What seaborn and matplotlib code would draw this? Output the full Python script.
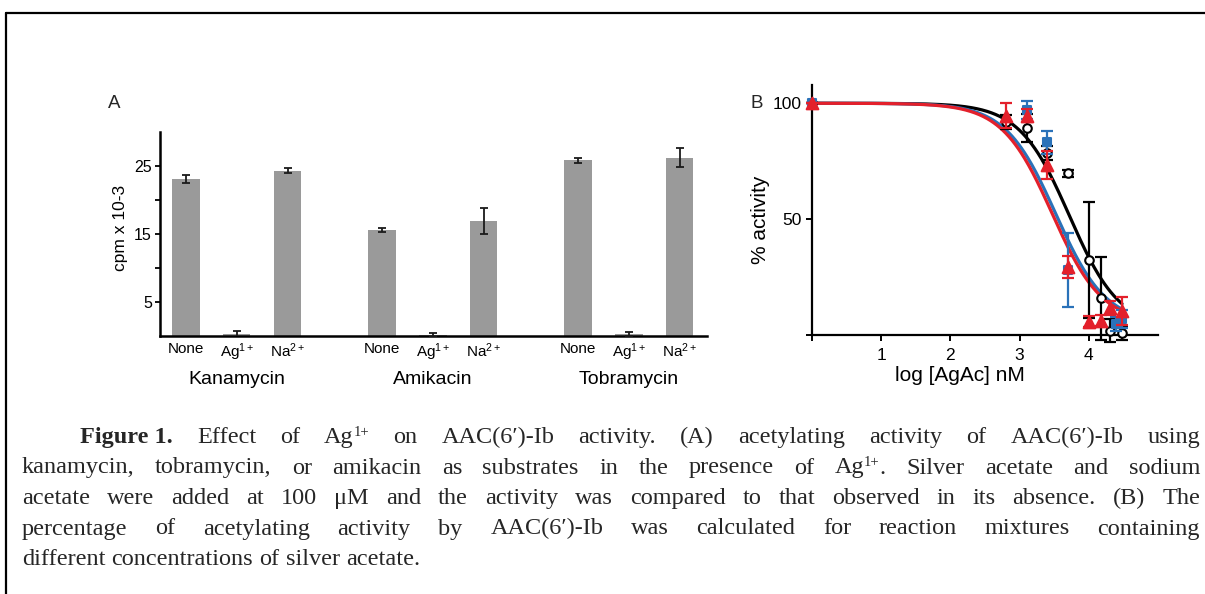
import re
import numpy as np
import pandas as pd
import matplotlib
matplotlib.use("Agg")
import matplotlib.pyplot as plt
from matplotlib.lines import Line2D
import seaborn as sns

# ---------------- data ----------------
antibiotics = ["Kanamycin", "Amikacin", "Tobramycin"]
conditions = ["None", "Ag$^{1+}$", "Na$^{2+}$"]
cpm_kanamycin = [23.0, 0.25, 24.3]
cpm_amikacin = [15.6, 0.2, 16.9]
cpm_tobramycin = [25.8, 0.3, 26.2]
err_kanamycin = [0.6, 0.55, 0.35]
err_amikacin = [0.3, 0.3, 1.9]
err_tobramycin = [0.37, 0.35, 1.4]

logc_black = [0, 2.8, 3.1, 3.4, 3.7, 4.0, 4.18, 4.3, 4.48]
act_black = [100, 91.8, 89.2, 78.4, 69.8, 32.6, 15.9, 2, 1]
err_black = [0, 3, 6, 3, 1.5, 25, 18, 5, 3]
logc_blue = [0, 3.1, 3.4, 3.7, 4.4, 4.48]
act_blue = [100, 97.1, 83.2, 28.1, 5, 7]
err_blue = [0, 4, 5, 16, 3, 4]
logc_red = [0, 2.8, 3.1, 3.4, 3.7, 4.0, 4.18, 4.3, 4.48]
act_red = [100, 94.7, 94.7, 73.4, 29.3, 5.9, 6.3, 11.6, 10.6]
err_red = [0, 5.5, 2.7, 6, 4.7, 2.5, 2.5, 3, 6]
# fitted dose-response parameters (black, blue, red)
fit_log_ic50 = [3.72, 3.52, 3.47]
fit_hill = [1.2, 1.2, 1.2]
fit_bottom = [3, 5, 5]

caption_lines = [
    "*Figure~1.* Effect of Ag^{1+} on AAC(6\u2032)-Ib activity. (A) acetylating activity of AAC(6\u2032)-Ib using",
    "kanamycin, tobramycin, or amikacin as substrates in the presence of Ag^{1+}. Silver acetate and sodium",
    "acetate were added at 100 \u03bcM and the activity was compared to that observed in its absence. (B) The",
    "percentage of acetylating activity by AAC(6\u2032)-Ib was calculated for reaction mixtures containing",
    "different concentrations of silver acetate.",
]

# ---------------- style ----------------
sns.set_theme(style="ticks")
plt.rcParams["font.family"] = ["Liberation Sans", "DejaVu Sans"]
plt.rcParams["mathtext.fontset"] = "custom"
plt.rcParams["mathtext.rm"] = "Liberation Sans"
plt.rcParams["mathtext.it"] = "Liberation Sans:italic"
plt.rcParams["mathtext.bf"] = "Liberation Sans:bold"

W, H = 1205, 594
fig = plt.figure(figsize=(W / 100, H / 100), dpi=100)
fig.patch.set_facecolor("white")


def frac(x0, y0, x1, y1):
    return [x0 / W, 1 - y1 / H, (x1 - x0) / W, (y1 - y0) / H]


# ---------------- panel A ----------------
axA = fig.add_axes(frac(160.4, 131.7, 706.6, 336))
gap = 3.85
positions = [g * gap + i for g in range(3) for i in range(3)]
dfA = pd.DataFrame({
    "pos": positions,
    "cpm": cpm_kanamycin + cpm_amikacin + cpm_tobramycin,
    "err": err_kanamycin + err_amikacin + err_tobramycin,
})
sns.barplot(data=dfA, x="pos", y="cpm", native_scale=True, width=0.544,
            color="#9a9a9a", saturation=1, errorbar=None, linewidth=0,
            ax=axA, zorder=2)
axA.errorbar(dfA["pos"], dfA["cpm"], yerr=dfA["err"], fmt="none",
             ecolor="#1a1a1a", elinewidth=1.3, capsize=2.9, capthick=1.3,
             zorder=3)
axA.set_xlim(-0.497, 10.23)
axA.set_ylim(0, 30)
axA.set_yticks([5, 10, 15, 20, 25])
axA.set_yticklabels(["5", "", "15", "", "25"], fontsize=11.5)
axA.set_xticks(positions)
axA.set_xticklabels(conditions * 3, fontsize=11)
axA.tick_params(axis="x", length=0, pad=4, colors="black")
axA.tick_params(axis="y", length=3.6, width=1.3, pad=2.5, colors="black")
for s in ["top", "right"]:
    axA.spines[s].set_visible(False)
for s in ["left", "bottom"]:
    axA.spines[s].set_linewidth(1.8)
    axA.spines[s].set_color("black")
axA.set_xlabel("")
axA.set_ylabel("cpm x 10-3", fontsize=12.5, color="black")
axA.yaxis.set_label_coords(-0.060, 0.527)
for g, name in enumerate(antibiotics):
    axA.text(positions[g * 3 + 1], -0.215, name, transform=axA.get_xaxis_transform(),
             ha="center", va="center", fontsize=14, color="black")
fig.text(114 / W, 1 - 103 / H, "A", ha="center", va="center", fontsize=13.5)

# ---------------- panel B ----------------
axB = fig.add_axes(frac(812, 84.7, 1158, 335.3))
axB.set_xlim(0, 5)
axB.set_ylim(0, 108)
colors = ["black", "#2a72b9", "#e3202b"]
xs_fit = np.linspace(0, 4.48, 300)
for k in range(3):
    c, h, b = fit_log_ic50[k], fit_hill[k], fit_bottom[k]
    yfit = b + (100 - b) / (1 + 10 ** ((xs_fit - c) * h))
    sns.lineplot(x=xs_fit, y=yfit, color=colors[k], lw=2.3, ax=axB,
                 zorder=2 + k, estimator=None, sort=False)

series = [
    (logc_black, act_black, err_black, "o", 38, "white", colors[0], 5),
    (logc_blue, act_blue, err_blue, "s", 40, colors[1], colors[1], 6),
    (logc_red, act_red, err_red, "^", 70, colors[2], colors[2], 7),
]
for xs, ys, es, mk, sz, fc, ec, z in series:
    axB.errorbar(xs, ys, yerr=es, fmt="none", ecolor=ec, elinewidth=1.6,
                 capsize=4, capthick=1.6, zorder=z, clip_on=False)
    sns.scatterplot(x=xs, y=ys, marker=mk, s=sz, facecolor=fc, edgecolor=ec,
                    linewidth=1.5, ax=axB, zorder=z + 0.5, clip_on=False)

axB.set_xticks([0, 1, 2, 3, 4])
axB.set_xticklabels(["", "1", "2", "3", "4"], fontsize=12.5)
axB.set_yticks([0, 50, 100])
axB.set_yticklabels(["", "50", "100"], fontsize=12.5)
axB.tick_params(length=4.5, width=1.4, pad=3, colors="black")
axB.tick_params(axis="x", pad=5)
for s in ["top", "right"]:
    axB.spines[s].set_visible(False)
for s in ["left", "bottom"]:
    axB.spines[s].set_linewidth(1.6)
    axB.spines[s].set_color("black")
axB.set_xlabel("log [AgAc] nM", fontsize=15, color="black")
axB.xaxis.set_label_coords(0.428, -0.122)
axB.xaxis.label.set_va("top")
axB.set_ylabel("% activity", fontsize=15, color="black")
axB.yaxis.set_label_coords(-0.12, 0.46)
fig.text(757 / W, 1 - 103 / H, "B", ha="center", va="center", fontsize=13.5)

# ---------------- frame ----------------
fig.add_artist(Line2D([6, W], [H - 13, H - 13], transform=None, color="black", lw=1.6))
fig.add_artist(Line2D([6, 6], [0, H - 13], transform=None, color="black", lw=1.6))

# ---------------- caption (justified) ----------------
serif = ["Liberation Serif", "DejaVu Serif"]
fs = 17.5
fs_px = fs * 100 / 72
renderer = fig.canvas.get_renderer()


def measure(t):
    return t.get_window_extent(renderer).width


probe1 = fig.text(0, 0, "n n", fontsize=fs, family=serif, transform=None)
probe2 = fig.text(0, 0, "nn", fontsize=fs, family=serif, transform=None)
space_w = measure(probe1) - measure(probe2)
probe1.remove()
probe2.remove()


def make_word(word, bold):
    segs = []
    parts = re.split(r"(\^\{[^}]*\})", word)
    for p in parts:
        if not p:
            continue
        if p.startswith("^{"):
            t = fig.text(0, 0, p[2:-1], fontsize=fs * 0.6, family=serif,
                         transform=None, va="baseline")
            segs.append((t, 0.3 * fs_px))
        else:
            t = fig.text(0, 0, p.replace("~", " "), fontsize=fs, family=serif,
                         transform=None, va="baseline",
                         fontweight="bold" if bold else "normal")
            segs.append((t, 0.0))
    width = sum(measure(t) for t, _ in segs)
    return segs, width


baselines = [443, 473.5, 504, 534.5, 565]
for li, line in enumerate(caption_lines):
    words = []
    for w in line.split(" "):
        bold = w.startswith("*")
        words.append(make_word(w.strip("*"), bold))
    x0 = 80 if li == 0 else 22
    x1 = 1200
    total = sum(wd for _, wd in words)
    if li < len(caption_lines) - 1:
        gap_w = (x1 - x0 - total) / (len(words) - 1)
    else:
        gap_w = space_w
    x = x0
    yb = H - baselines[li]
    for segs, wd in words:
        xx = x
        for t, dy in segs:
            t.set_position((xx, yb + dy))
            xx += measure(t)
        x += wd + gap_w

fig.savefig("out.png", dpi=100, facecolor="white")
